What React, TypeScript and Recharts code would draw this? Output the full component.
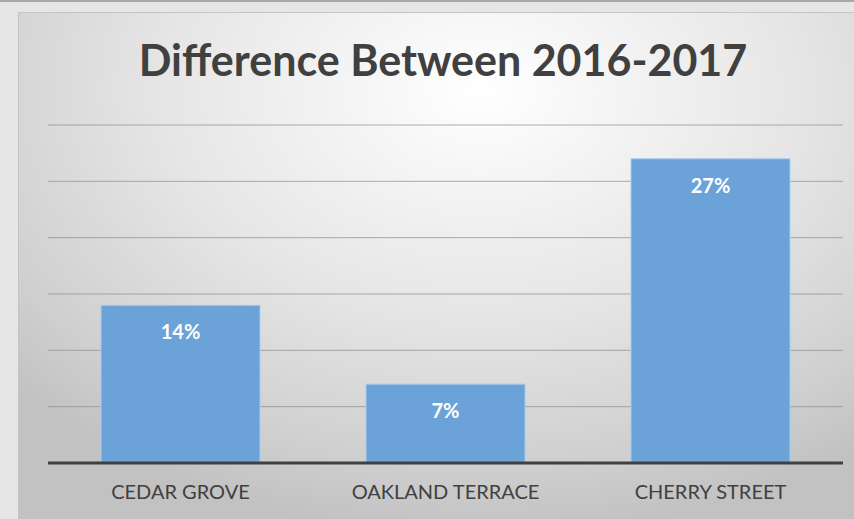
import React from "react";
import { BarChart, Bar, XAxis, YAxis, CartesianGrid, LabelList } from "recharts";

const categories = ["CEDAR GROVE", "OAKLAND TERRACE", "CHERRY STREET"];
const differences = [14, 7, 27];
const yTicks = [0, 5, 10, 15, 20, 25, 30];

const data = categories.map((name, i) => ({ name, value: differences[i] }));

const font = "Lato, 'Open Sans', sans-serif";

export default function App() {
	return (
		<div
			style={{
				position: "fixed",
				left: 0,
				top: 0,
				width: 854,
				height: 519,
				background: "#e6e6e6",
				borderTop: "2px solid #a8a8a8",
				boxSizing: "border-box",
				overflow: "hidden",
				fontFamily: font,
			}}
		>
			<div
				style={{
					position: "absolute",
					left: 18,
					top: 10,
					width: 840,
					height: 520,
					border: "1px solid #c4c4c4",
					background:
						"radial-gradient(ellipse 75% 85% at 55% 15%, #ffffff 0%, #e6e6e6 50%, #cfcfcf 85%, #c2c2c2 100%)",
				}}
			/>
			<div
				style={{
					position: "absolute",
					left: 0,
					top: 32,
					width: 886,
					textAlign: "center",
					fontSize: 43,
					fontWeight: 700,
					color: "#404040",
				}}
			>
				Difference Between 2016-2017
			</div>
			<div style={{ position: "absolute", left: 0, top: -2 }}>
				<BarChart
					width={854}
					height={519}
					data={data}
					margin={{ top: 125, right: 11, left: 48, bottom: 26 }}
					barCategoryGap="20%"
				>
					<CartesianGrid vertical={false} stroke="#8c8c8c" strokeOpacity={0.7} />
					<YAxis hide domain={[0, 30]} ticks={yTicks} />
					<XAxis
						dataKey="name"
						axisLine={{ stroke: "#404040", strokeWidth: 3 }}
						tickLine={false}
						tick={{ fill: "#404040", fontSize: 20, fontFamily: font }}
						tickMargin={16}
					/>
					<Bar dataKey="value" fill="#6ba3d8" stroke="#a9cbec" strokeWidth={1} isAnimationActive={false}>
						<LabelList
							dataKey="value"
							position="insideTop"
							offset={20}
							formatter={(v: number) => `${v}%`}
							style={{ fill: "#ffffff", fontWeight: 700, fontSize: 20, fontFamily: font }}
						/>
					</Bar>
				</BarChart>
			</div>
		</div>
	);
}
